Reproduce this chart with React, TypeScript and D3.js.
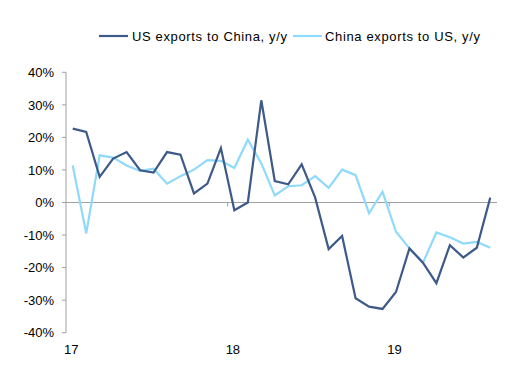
import React from "react";
import * as d3 from "d3";

// monthly, Jan 2017 .. Aug 2019
const months = d3.range(32).map((i) => new Date(2017, i, 1));

const usExports = [
  22.7, 21.7, 7.9, 13.5, 15.5, 9.9, 9.2, 15.5, 14.7, 2.8, 5.8, 16.7,
  -2.4, 0, 31.4, 6.6, 5.6, 11.7, 1.5, -14.3, -10.3, -29.4, -32, -32.7,
  -27.5, -14.1, -18.5, -24.8, -13.1, -16.9, -13.9, 1.5,
];

const chinaExports = [
  11.4, -9.5, 14.5, 13.8, 11.4, 9.7, 10.4, 5.8, 8.1, 10.1, 13, 12.8,
  10.6, 19.3, 12, 2.2, 5, 5.3, 8.1, 4.5, 10.1, 8.4, -3.3, 3.3,
  -9, -14.1, -18.5, -9.2, -10.7, -12.6, -12.1, -13.9,
];

const yTicks = [40, 30, 20, 10, 0, -10, -20, -30, -40];
const yearLabels = [
  { idx: 0, label: "17" },
  { idx: 12, label: "18" },
  { idx: 24, label: "19" },
];

const DARK = "#3d5a89";
const LIGHT = "#8fd9fa";
const AXIS = "#a0a0a0";
const FONT = "'Liberation Sans', Arial, sans-serif";

const App = () => {
  const width = 531;
  const height = 388;
  const left = 66;
  const right = 497;

  const x = d3
    .scaleBand<number>()
    .domain(months.map((_, i) => i))
    .range([left, right]);
  const cx = (i: number) => (x(i) as number) + x.bandwidth() / 2;

  const y = d3.scaleLinear().domain([-40, 40]).range([332.7, 72.3]);

  const line = d3
    .line<number>()
    .x((_, i) => cx(i))
    .y((d) => y(d));

  return (
    <svg
      width={width}
      height={height}
      style={{ position: "absolute", left: 0, top: 0, background: "#fff" }}
      fontFamily={FONT}
    >
      {/* y axis */}
      <line x1={left} x2={left} y1={y(40)} y2={y(-40)} stroke={AXIS} strokeWidth={1} />
      {yTicks.map((t) => (
        <g key={t}>
          <line x1={left - 4} x2={left} y1={y(t)} y2={y(t)} stroke={AXIS} />
          <text
            x={54}
            y={y(t)}
            dy="0.36em"
            textAnchor="end"
            fontSize={13}
            fill="#000"
          >
            {`${t}%`}
          </text>
        </g>
      ))}

      {/* x axis at zero */}
      <line x1={left} x2={right} y1={y(0)} y2={y(0)} stroke={AXIS} strokeWidth={1} />
      {yearLabels.slice(1).map((d) => (
        <line
          key={d.label}
          x1={x(d.idx) as number}
          x2={x(d.idx) as number}
          y1={y(0)}
          y2={y(0) + 4}
          stroke={AXIS}
        />
      ))}
      {yearLabels.map((d) => (
        <text
          key={d.label}
          x={cx(d.idx) - 1.5}
          y={349}
          dy="0.36em"
          textAnchor="middle"
          fontSize={13}
          fill="#000"
        >
          {d.label}
        </text>
      ))}

      {/* series */}
      <path d={line(chinaExports) ?? ""} fill="none" stroke={LIGHT} strokeWidth={2.2} />
      <path d={line(usExports) ?? ""} fill="none" stroke={DARK} strokeWidth={2.2} />

      {/* legend */}
      <line x1={99} x2={128} y1={36} y2={36} stroke={DARK} strokeWidth={2.2} />
      <text x={132} y={36} dy="0.36em" fontSize={13} fill="#000" textLength={155} lengthAdjust="spacing">
        US exports to China, y/y
      </text>
      <line x1={293} x2={322} y1={36} y2={36} stroke={LIGHT} strokeWidth={2.2} />
      <text x={325} y={36} dy="0.36em" fontSize={13} fill="#000" textLength={155} lengthAdjust="spacing">
        China exports to US, y/y
      </text>
    </svg>
  );
};

export default App;
